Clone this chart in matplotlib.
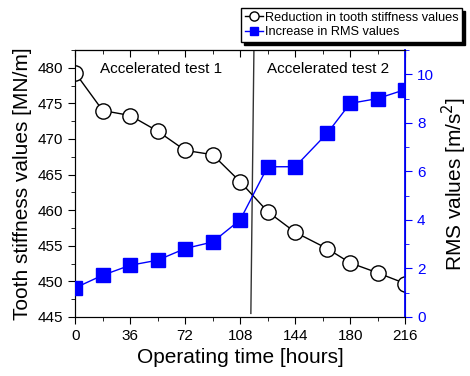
import numpy as np
import matplotlib
matplotlib.use("Agg")
import matplotlib.pyplot as plt
from matplotlib.ticker import MultipleLocator

plt.rcParams['font.family'] = ['Liberation Sans', 'DejaVu Sans']

# data
hours = [0, 18, 36, 54, 72, 90, 108, 126, 144, 165, 180, 198, 216]
stiffness = [479.3, 474.0, 473.3, 471.1, 468.4, 467.8, 464.0, 459.8, 456.9, 454.6, 452.6, 451.2, 449.7]
rms = [1.2, 1.72, 2.13, 2.34, 2.82, 3.09, 4.0, 6.19, 6.19, 7.57, 8.8, 9.0, 9.37]
x_ticks = [0, 36, 72, 108, 144, 180, 216]
split_line_x = [117, 115]
split_line_y = [482.5, 445.5]

blue = '#0000ff'

fig = plt.figure(figsize=(4.7, 3.76), dpi=100)
ax = fig.add_axes([0.16, 0.157, 0.702, 0.71])
ax2 = ax.twinx()

ax.plot(hours, stiffness, '-', color='black', lw=1, marker='o', ms=11,
        mfc='white', mec='black', mew=1, label='Reduction in tooth stiffness values', zorder=3)
ax2.plot(hours, rms, '-', color=blue, lw=1, marker='s', ms=10,
         mfc=blue, mec=blue, label='Increase in RMS values', zorder=3)

ax.plot(split_line_x, split_line_y, color='#333333', lw=1)

ax.set_xlim(0, 216)
ax.set_ylim(445, 482.5)
ax2.set_ylim(0, 11)

ax.set_xticks(x_ticks)
ax.xaxis.set_minor_locator(MultipleLocator(18))
ax.yaxis.set_major_locator(MultipleLocator(5))
ax.yaxis.set_minor_locator(MultipleLocator(2.5))
ax2.yaxis.set_major_locator(MultipleLocator(2))
ax2.yaxis.set_minor_locator(MultipleLocator(1))

ax.tick_params(axis='x', which='both', direction='out', top=False, labelsize=11)
ax.tick_params(axis='x', which='major', length=5)
ax.tick_params(axis='x', which='minor', length=3)
ax.tick_params(axis='y', which='major', direction='out', length=5, labelsize=11)
ax.tick_params(axis='y', which='minor', direction='out', length=3)
ax2.tick_params(axis='y', which='major', direction='out', length=5, colors=blue, labelsize=11)
ax2.tick_params(axis='y', which='minor', direction='out', length=3, colors=blue)
ax2.spines['right'].set_color(blue)
ax2.spines['right'].set_linewidth(1.3)
for s in ['left', 'bottom', 'top']:
    ax.spines[s].set_color('#333333')

# mirrored top ticks pointing inward
top = ax.secondary_xaxis('top')
top.set_xticks(x_ticks)
top.xaxis.set_minor_locator(MultipleLocator(18))
top.tick_params(which='both', direction='in', labeltop=False)
top.tick_params(which='major', length=5)
top.tick_params(which='minor', length=3)
top.spines['top'].set_color('#333333')

ax.set_xlabel('Operating time [hours]', fontsize=15)
ax.set_ylabel('Tooth stiffness values [MN/m]', fontsize=15)
ax2.set_ylabel('RMS values [m/s$^2$]', fontsize=15)

ax.text(0.076, 0.93, 'Accelerated test 1', transform=ax.transAxes, fontsize=11, va='center', ha='left')
ax.text(0.58, 0.93, 'Accelerated test 2', transform=ax.transAxes, fontsize=11, va='center', ha='left')

h1, l1 = ax.get_legend_handles_labels()
h2, l2 = ax2.get_legend_handles_labels()
leg = fig.legend(h1 + h2, l1 + l2, loc='upper left', bbox_to_anchor=(241 / 470, 1 - 8 / 376),
                 fontsize=9.2, frameon=True, fancybox=False, shadow={'color': 'black', 'alpha': 1},
                 handlelength=1.4, handletextpad=0.15, borderpad=0.3, labelspacing=0.2,
                 markerscale=0.6, borderaxespad=0)
leg.get_frame().set_edgecolor('black')
leg.get_frame().set_linewidth(1)

fig.savefig('out.png', dpi=100)
